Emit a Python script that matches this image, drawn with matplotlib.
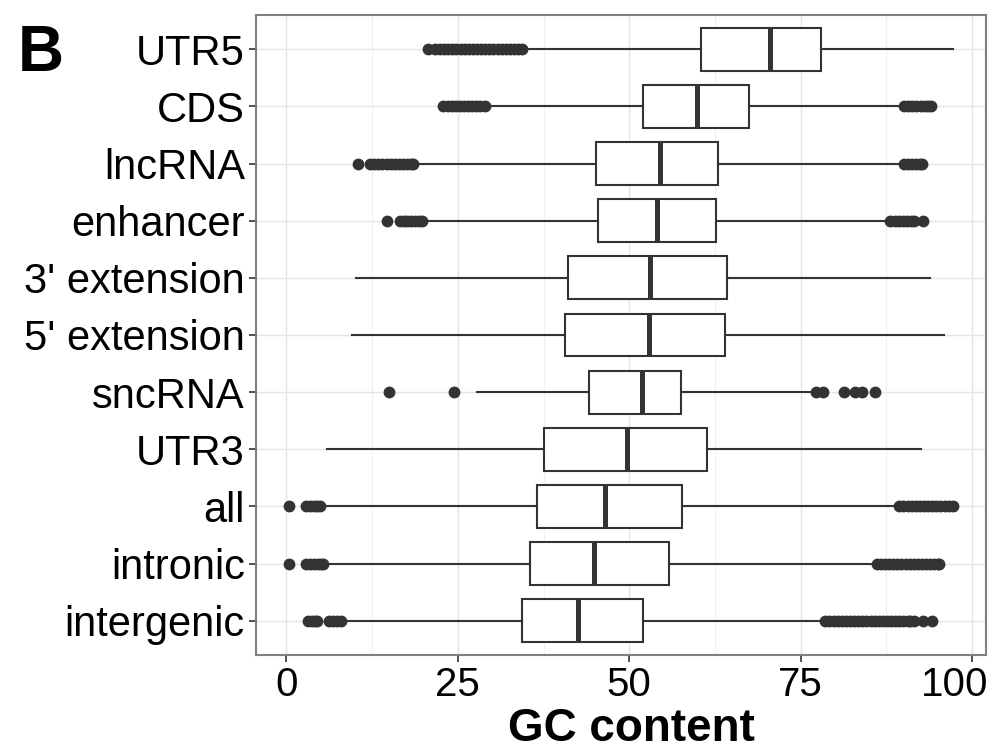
import matplotlib.pyplot as plt
from matplotlib.ticker import MultipleLocator
from matplotlib.transforms import ScaledTranslation

plt.rcParams["font.family"] = ["Liberation Sans", "DejaVu Sans"]

# categories top to bottom
categories = ["UTR5", "CDS", "lncRNA", "enhancer", "3' extension", "5' extension",
              "sncRNA", "UTR3", "all", "intronic", "intergenic"]
q1 = [60.4, 52.0, 45.1, 45.4, 41.0, 40.7, 44.2, 37.6, 36.6, 35.5, 34.3]
median = [70.6, 59.9, 54.5, 54.0, 53.1, 52.9, 51.8, 49.7, 46.4, 44.8, 42.5]
q3 = [78.0, 67.4, 63.0, 62.6, 64.2, 64.0, 57.5, 61.4, 57.7, 55.8, 52.0]
whisker_lo = [35.0, 29.7, 19.2, 20.5, 10.2, 9.5, 27.8, 5.9, 5.6, 6.1, 8.7]
whisker_hi = [97.2, 89.5, 89.5, 87.5, 93.8, 95.9, 77.0, 92.6, 89.0, 85.5, 78.0]
outliers = [
    [20.6, 21.6, 22.4, 23.0, 23.6, 24.2, 24.8, 25.4, 26.0, 26.6, 27.2, 27.8,
     28.4, 29.0, 29.6, 30.2, 30.8, 31.4, 32.0, 32.6, 33.2, 33.8, 34.3],
    [22.9, 23.5, 24.1, 24.7, 25.3, 25.9, 26.5, 27.1, 27.7, 28.3, 29.0,
     90.1, 90.7, 91.3, 91.9, 92.5, 93.1, 93.6, 94.0],
    [10.4, 12.2, 12.8, 13.4, 14.0, 14.6, 15.2, 15.8, 16.4, 17.0, 17.6, 18.1, 18.5,
     90.1, 90.7, 91.3, 91.9, 92.4, 92.7],
    [14.7, 16.5, 17.1, 17.6, 18.2, 18.8, 19.3, 19.8,
     88.1, 88.7, 89.3, 89.9, 90.5, 91.1, 91.6, 92.8],
    [],
    [],
    [14.9, 24.5, 77.3, 78.2, 81.3, 83.0, 84.0, 85.9],
    [],
    [0.4, 2.8, 3.4, 4.0, 4.5, 4.9,
     89.4, 90.0, 90.6, 91.2, 91.8, 92.4, 93.0, 93.6, 94.2, 94.8, 95.4, 96.0,
     96.6, 97.2],
    [0.4, 2.8, 3.4, 4.0, 4.6, 5.0, 5.4,
     86.1, 86.7, 87.3, 87.9, 88.5, 89.1, 89.7, 90.3, 90.9, 91.5, 92.1, 92.7,
     93.3, 93.9, 94.5, 95.0, 95.2],
    [3.1, 3.7, 4.2, 4.5, 6.2, 6.8, 7.4, 8.0,
     78.6, 79.2, 79.8, 80.4, 81.0, 81.6, 82.2, 82.8, 83.4, 84.0, 84.6, 85.2,
     85.8, 86.4, 87.0, 87.6, 88.2, 88.8, 89.4, 90.0, 90.6, 91.0, 91.6, 92.9, 94.2],
]
x_ticks = [0, 25, 50, 75, 100]

n = len(categories)
positions = [n - i for i in range(n)]
stats = [
    {"med": m, "q1": a, "q3": b, "whislo": lo, "whishi": hi, "fliers": fl}
    for m, a, b, lo, hi, fl in zip(median, q1, q3, whisker_lo, whisker_hi, outliers)
]

fig = plt.figure(figsize=(9.93, 7.53), dpi=100)
ax = fig.add_axes([256 / 993, 1 - 655 / 753, 730 / 993, 640 / 753])

dark = "#333333"
ax.bxp(stats, positions=positions, widths=0.75, orientation="horizontal",
       showcaps=False, patch_artist=True,
       boxprops=dict(facecolor="white", edgecolor=dark, linewidth=1.5),
       whiskerprops=dict(color=dark, linewidth=1.5),
       medianprops=dict(color=dark, linewidth=3.6),
       flierprops=dict(marker="o", markerfacecolor=dark, markeredgecolor=dark,
                       markersize=7.5, linestyle="none"),
       zorder=3)

all_vals = [v for fl in outliers for v in fl] + whisker_lo + whisker_hi
lo, hi = min(all_vals), max(all_vals)
pad = 0.05 * (hi - lo)
ax.set_xlim(lo - pad, hi + pad)
ax.set_ylim(0.4, n + 0.6)

ax.set_xticks(x_ticks)
ax.xaxis.set_minor_locator(MultipleLocator(12.5))
ax.set_yticks(positions)
ax.set_yticklabels(categories)

ax.grid(True, which="major", color="#e5e5e5", linewidth=1.0, zorder=0)
ax.grid(True, which="minor", axis="x", color="#f0f0f0", linewidth=0.8, zorder=0)
ax.set_axisbelow(True)

ax.tick_params(which="major", direction="out", length=5, width=1.2, color=dark,
               labelsize=30, labelcolor="black", pad=3)
ax.tick_params(axis="x", labelsize=29)
ax.tick_params(which="minor", length=0)
for s in ax.spines.values():
    s.set_color("#7f7f7f")
    s.set_linewidth(1.5)

# last x label sits shifted left so it stays inside the figure
fig.canvas.draw()
last = ax.get_xticklabels()[-1]
last.set_transform(last.get_transform() + ScaledTranslation(-0.17, 0, fig.dpi_scale_trans))

ax.set_xlabel("GC content", fontsize=33, fontweight="bold", labelpad=0, va="baseline")
ax.xaxis.set_label_coords((631 - 256) / 730, (655 - 741) / 640)
fig.text(18 / 993, 1 - 71 / 753, "B", fontsize=46, fontweight="bold",
         va="baseline", ha="left")

fig.savefig("out.png", dpi=100)
